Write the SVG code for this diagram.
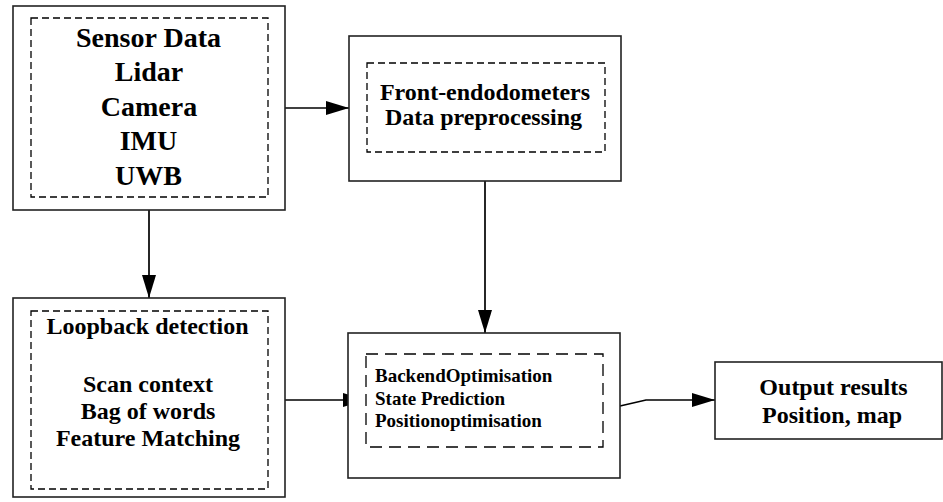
<svg xmlns="http://www.w3.org/2000/svg" width="943" height="502" viewBox="0 0 943 502">
<style>
.outer{fill:#fff;stroke:#222;stroke-width:1.6}
.inner{fill:none;stroke:#000;stroke-width:1.3;stroke-dasharray:7,4}
.inner2{fill:none;stroke:#000;stroke-width:1.3;stroke-dasharray:12,7}
.t{font-family:"Liberation Serif","Times New Roman",serif;font-weight:bold;fill:#000}
.c{text-anchor:middle}
.conn{fill:none;stroke:#000;stroke-width:1.7}
</style>
<defs>
<marker id="arr" markerWidth="24" markerHeight="14" refX="23" refY="7" orient="auto" markerUnits="userSpaceOnUse">
<path d="M0,0 L23,7 L0,14 z" fill="#000"/>
</marker>
</defs>
<rect width="943" height="502" fill="#fff"/>
<g id="connectors">
<path class="conn" d="M149,197 V298" marker-end="url(#arr)"/>
<path class="conn" d="M285,108 H349" marker-end="url(#arr)"/>
<path class="conn" d="M485,152 V333" marker-end="url(#arr)"/>
<path class="conn" d="M285,400 H366" marker-end="url(#arr)"/>
<path class="conn" d="M620,406 L646,400 H715" marker-end="url(#arr)"/>
</g>
<g id="sensor">
<rect class="outer" x="13" y="6" width="272" height="204"/>
<rect class="inner" x="31" y="18" width="237" height="179"/>
<text class="t c" font-size="28" x="148.5" y="47">Sensor Data</text>
<text class="t c" font-size="28" x="149" y="81">Lidar</text>
<text class="t c" font-size="28" x="149" y="115.5">Camera</text>
<text class="t c" font-size="28" x="148.5" y="150">IMU</text>
<text class="t c" font-size="28" x="148.5" y="184.5">UWB</text>
</g>
<g id="frontend">
<rect class="outer" x="349" y="36" width="272" height="145"/>
<rect class="inner" x="367" y="63" width="238" height="89"/>
<text class="t c" font-size="24" x="485" y="100">Front-endodometers</text>
<text class="t c" font-size="24" x="483.5" y="125">Data preprocessing</text>
</g>
<g id="loopback">
<rect class="outer" x="13" y="298" width="272" height="199"/>
<rect class="inner" x="31" y="311" width="237" height="178"/>
<text class="t c" font-size="24" x="147.5" y="334">Loopback detection</text>
<text class="t c" font-size="24" x="148" y="392">Scan context</text>
<text class="t c" font-size="24" x="148" y="419">Bag of words</text>
<text class="t c" font-size="24" x="148" y="446">Feature Matching</text>
</g>
<g id="backend">
<rect class="outer" x="348" y="333" width="272" height="145"/>
<rect class="inner2" x="366" y="354" width="237" height="93"/>
<text class="t" font-size="19" x="375" y="382">BackendOptimisation</text>
<text class="t" font-size="19" x="375" y="405">State Prediction</text>
<text class="t" font-size="19" x="375" y="427">Positionoptimisation</text>
</g>
<g id="output">
<rect class="outer" x="715" y="362" width="227" height="77"/>
<text class="t c" font-size="24" x="833.5" y="395">Output results</text>
<text class="t c" font-size="24" x="832" y="423">Position, map</text>
</g>
</svg>
